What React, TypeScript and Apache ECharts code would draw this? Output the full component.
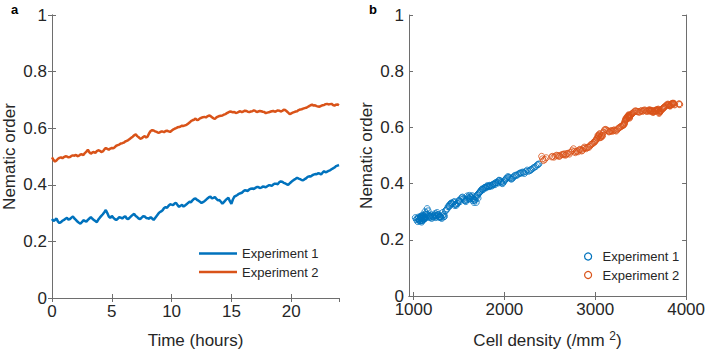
import React, { useEffect, useRef } from 'react';
import * as echarts from 'echarts';

// ---- Data ----
// Frames every 0.25 h plus the in-between frames (TIME_MID).
const TIME_HOURS = [
  0, 0.25, 0.5, 0.75, 1, 1.25, 1.5, 1.75, 2, 2.25, 2.5, 2.75, 3, 3.25, 3.5, 3.75,
  4, 4.25, 4.5, 4.75, 5, 5.25, 5.5, 5.75, 6, 6.25, 6.5, 6.75, 7, 7.25, 7.5, 7.75,
  8, 8.25, 8.5, 8.75, 9, 9.25, 9.5, 9.75, 10, 10.25, 10.5, 10.75, 11, 11.25, 11.5, 11.75,
  12, 12.25, 12.5, 12.75, 13, 13.25, 13.5, 13.75, 14, 14.25, 14.5, 14.75, 15, 15.25, 15.5, 15.75,
  16, 16.25, 16.5, 16.75, 17, 17.25, 17.5, 17.75, 18, 18.25, 18.5, 18.75, 19, 19.25, 19.5, 19.75,
  20, 20.25, 20.5, 20.75, 21, 21.25, 21.5, 21.75, 22, 22.25, 22.5, 22.75, 23, 23.25, 23.5, 23.75, 24,
];
const TIME_MID = [
  0.125, 0.375, 0.625, 0.875, 1.125, 1.375, 1.625, 1.875, 2.125, 2.375, 2.625, 2.875, 3.125, 3.375, 3.625, 3.875,
  4.125, 4.375, 4.625, 4.875, 5.125, 5.375, 5.625, 5.875, 6.125, 6.375, 6.625, 6.875, 7.125, 7.375, 7.625, 7.875,
  8.125, 8.375, 8.625, 8.875, 9.125, 9.375, 9.625, 9.875, 10.125, 10.375, 10.625, 10.875, 11.125, 11.375, 11.625, 11.875,
  12.125, 12.375, 12.625, 12.875, 13.125, 13.375, 13.625, 13.875, 14.125, 14.375, 14.625, 14.875, 15.125, 15.375, 15.625, 15.875,
  16.125, 16.375, 16.625, 16.875, 17.125, 17.375, 17.625, 17.875, 18.125, 18.375, 18.625, 18.875, 19.125, 19.375, 19.625, 19.875,
  20.125, 20.375, 20.625, 20.875, 21.125, 21.375, 21.625, 21.875, 22.125, 22.375, 22.625, 22.875, 23.125, 23.375, 23.625, 23.875,
];

const EXP1_ORDER = [
  0.279, 0.276, 0.270, 0.268, 0.276, 0.283, 0.279, 0.288, 0.276, 0.266, 0.268, 0.272, 0.276, 0.286, 0.276, 0.268,
  0.284, 0.296, 0.311, 0.288, 0.290, 0.279, 0.280, 0.284, 0.286, 0.281, 0.284, 0.294, 0.290, 0.281, 0.284, 0.288,
  0.282, 0.286, 0.276, 0.290, 0.303, 0.310, 0.321, 0.326, 0.330, 0.334, 0.328, 0.326, 0.323, 0.331, 0.340, 0.345,
  0.352, 0.344, 0.336, 0.342, 0.352, 0.358, 0.354, 0.350, 0.346, 0.333, 0.345, 0.354, 0.333, 0.358, 0.364, 0.370,
  0.377, 0.380, 0.384, 0.387, 0.389, 0.392, 0.390, 0.393, 0.395, 0.398, 0.401, 0.404, 0.409, 0.411, 0.405, 0.400,
  0.410, 0.418, 0.425, 0.420, 0.416, 0.423, 0.430, 0.433, 0.438, 0.441, 0.436, 0.448, 0.446, 0.451, 0.458, 0.466, 0.470,
];
const EXP1_ORDER_MID = [
  0.272, 0.281, 0.265, 0.273, 0.280, 0.277, 0.284, 0.281, 0.270, 0.263, 0.275, 0.270, 0.281, 0.280, 0.272, 0.277,
  0.290, 0.303, 0.300, 0.283, 0.284, 0.276, 0.286, 0.281, 0.289, 0.279, 0.289, 0.297, 0.286, 0.279, 0.289, 0.283,
  0.280, 0.281, 0.283, 0.297, 0.306, 0.318, 0.319, 0.331, 0.328, 0.336, 0.322, 0.329, 0.327, 0.336, 0.338, 0.350,
  0.347, 0.340, 0.339, 0.347, 0.356, 0.352, 0.357, 0.345, 0.340, 0.339, 0.350, 0.342, 0.348, 0.361, 0.368, 0.372,
  0.381, 0.378, 0.386, 0.385, 0.392, 0.389, 0.394, 0.391, 0.398, 0.396, 0.404, 0.402, 0.412, 0.407, 0.402, 0.405,
  0.414, 0.421, 0.422, 0.417, 0.420, 0.428, 0.429, 0.436, 0.437, 0.440, 0.443, 0.444, 0.449, 0.455, 0.461, 0.468,
];

const EXP2_ORDER = [
  0.497, 0.482, 0.492, 0.497, 0.498, 0.500, 0.498, 0.504, 0.506, 0.503, 0.508, 0.512, 0.524, 0.510, 0.516, 0.519,
  0.520, 0.518, 0.530, 0.524, 0.530, 0.533, 0.540, 0.546, 0.549, 0.555, 0.562, 0.570, 0.578, 0.568, 0.564, 0.572,
  0.571, 0.590, 0.592, 0.587, 0.585, 0.588, 0.590, 0.589, 0.591, 0.598, 0.603, 0.606, 0.608, 0.612, 0.620, 0.628,
  0.634, 0.630, 0.637, 0.640, 0.642, 0.643, 0.635, 0.638, 0.643, 0.645, 0.650, 0.656, 0.658, 0.657, 0.655, 0.660,
  0.659, 0.661, 0.657, 0.660, 0.661, 0.659, 0.660, 0.657, 0.655, 0.658, 0.661, 0.660, 0.662, 0.661, 0.664, 0.655,
  0.652, 0.657, 0.660, 0.666, 0.669, 0.672, 0.678, 0.683, 0.681, 0.677, 0.679, 0.682, 0.686, 0.685, 0.682, 0.683, 0.681,
];
const EXP2_ORDER_MID = [
  0.488, 0.486, 0.495, 0.494, 0.501, 0.497, 0.502, 0.503, 0.501, 0.507, 0.505, 0.517, 0.515, 0.514, 0.513, 0.522,
  0.516, 0.525, 0.527, 0.528, 0.529, 0.538, 0.542, 0.547, 0.553, 0.558, 0.566, 0.575, 0.572, 0.563, 0.569, 0.567,
  0.582, 0.593, 0.589, 0.584, 0.588, 0.586, 0.591, 0.587, 0.595, 0.600, 0.604, 0.609, 0.610, 0.616, 0.625, 0.630,
  0.629, 0.635, 0.639, 0.638, 0.645, 0.639, 0.633, 0.641, 0.644, 0.648, 0.653, 0.659, 0.656, 0.654, 0.658, 0.657,
  0.662, 0.658, 0.659, 0.663, 0.657, 0.661, 0.658, 0.653, 0.656, 0.660, 0.658, 0.663, 0.659, 0.665, 0.660, 0.650,
  0.655, 0.659, 0.664, 0.667, 0.671, 0.675, 0.681, 0.680, 0.678, 0.676, 0.681, 0.685, 0.684, 0.686, 0.680, 0.684,
];

const EXP1_DENSITY = [
  1020, 1040, 1060, 1070, 1050, 1080, 1090, 1100, 1085, 1070, 1095, 1110, 1120, 1105, 1130, 1090,
  1115, 1140, 1150, 1160, 1145, 1175, 1190, 1210, 1230, 1215, 1250, 1240, 1265, 1280, 1290, 1270,
  1300, 1320, 1310, 1335, 1350, 1370, 1390, 1400, 1420, 1440, 1430, 1460, 1470, 1490, 1500, 1520,
  1540, 1560, 1575, 1590, 1600, 1615, 1630, 1640, 1650, 1665, 1660, 1680, 1690, 1700, 1715, 1730,
  1745, 1760, 1775, 1790, 1805, 1820, 1835, 1850, 1870, 1885, 1900, 1920, 1935, 1950, 1965, 1980,
  2000, 2020, 2040, 2060, 2080, 2100, 2125, 2150, 2175, 2200, 2220, 2250, 2280, 2300, 2330, 2360, 2380,
];
const EXP1_DENSITY_MID = [
  1030, 1055, 1045, 1065, 1075, 1100, 1080, 1115, 1060, 1090, 1120, 1100, 1135, 1125, 1110, 1080,
  1130, 1160, 1125, 1170, 1185, 1200, 1180, 1225, 1200, 1245, 1235, 1260, 1250, 1300, 1275, 1290,
  1285, 1330, 1340, 1320, 1360, 1380, 1395, 1415, 1410, 1450, 1455, 1480, 1465, 1510, 1495, 1530,
  1550, 1570, 1565, 1605, 1590, 1625, 1645, 1620, 1670, 1655, 1690, 1675, 1710, 1705, 1725, 1735,
  1755, 1765, 1785, 1800, 1810, 1830, 1840, 1860, 1875, 1895, 1905, 1930, 1940, 1960, 1970, 1990,
  2010, 2030, 2050, 2070, 2090, 2110, 2135, 2165, 2185, 2210, 2235, 2265, 2290, 2315, 2345, 2370,
];

const EXP2_DENSITY = [
  2410, 2430, 2460, 2530, 2560, 2590, 2610, 2640, 2660, 2680, 2700, 2730, 2760, 2780, 2800, 2820,
  2840, 2860, 2880, 2900, 2920, 2940, 2960, 2980, 2995, 3010, 3020, 3035, 3050, 3040, 3060, 3070,
  3080, 3100, 3120, 3140, 3160, 3180, 3200, 3220, 3240, 3260, 3280, 3300, 3310, 3320, 3325, 3335,
  3340, 3350, 3355, 3360, 3365, 3370, 3375, 3380, 3385, 3395, 3410, 3430, 3450, 3470, 3490, 3510,
  3530, 3550, 3570, 3590, 3600, 3610, 3620, 3630, 3640, 3650, 3660, 3670, 3680, 3690, 3695, 3700,
  3705, 3715, 3725, 3740, 3750, 3760, 3780, 3800, 3810, 3820, 3830, 3840, 3850, 3860, 3870, 3920, 3930,
];
const EXP2_DENSITY_MID = [
  2420, 2445, 2520, 2545, 2575, 2600, 2625, 2650, 2670, 2690, 2715, 2745, 2770, 2790, 2810, 2830,
  2850, 2870, 2890, 2910, 2930, 2950, 2970, 2990, 3000, 3015, 3030, 3045, 3030, 3050, 3065, 3075,
  3090, 3110, 3130, 3150, 3170, 3190, 3210, 3230, 3250, 3270, 3290, 3305, 3315, 3322, 3330, 3338,
  3345, 3352, 3358, 3362, 3368, 3372, 3378, 3382, 3390, 3402, 3420, 3440, 3460, 3480, 3500, 3520,
  3540, 3560, 3580, 3595, 3605, 3615, 3625, 3635, 3645, 3655, 3665, 3675, 3685, 3692, 3698, 3702,
  3710, 3720, 3732, 3745, 3755, 3770, 3790, 3805, 3815, 3825, 3835, 3845, 3855, 3865, 3875, 3925,
];

const SERIES_NAMES = ['Experiment 1', 'Experiment 2'];
const TIME_MAX = 24;
const TIME_TICK = 5;
const ORDER_MAX = 1;
const ORDER_TICK = 0.2;
const DENSITY_MIN = 950;
const DENSITY_MAX = 4000;
const DENSITY_TICKS = [1000, 2000, 3000, 4000];

const BLUE = '#0072BD';
const ORANGE = '#D95319';
const AXIS_COLOR = '#6e6e6e';
const TEXT_COLOR = '#262626';
const FONT = '"Liberation Sans", Arial, Helvetica, sans-serif';

// interleave base frames and in-between frames
function frames(xs: number[], ys: number[], xm: number[], ym: number[]) {
  const out: number[][] = [];
  xs.forEach((x, i) => {
    out.push([x, ys[i]]);
    if (i < xm.length) out.push([xm[i], ym[i]]);
  });
  return out;
}

export default function App() {
  const ref = useRef<HTMLDivElement>(null);

  useEffect(() => {
    document.body.style.margin = '0';
    if (!ref.current) return;
    const chart = echarts.init(ref.current, null, { renderer: 'svg' });

    const axisLine = { show: true, lineStyle: { color: AXIS_COLOR, width: 1 } };
    const tick = { show: true, inside: true, length: 4, lineStyle: { color: AXIS_COLOR } };
    const labelStyle = { fontSize: 17, lineHeight: 13, color: TEXT_COLOR, fontFamily: FONT };
    const nameStyle = { fontSize: 17, color: TEXT_COLOR, fontFamily: FONT };
    const plain = (v: number) => String(v);

    const yBase = {
      type: 'value' as const,
      min: 0,
      max: ORDER_MAX,
      interval: ORDER_TICK,
      axisLine,
      axisTick: tick,
      splitLine: { show: false },
    };

    const option: any = {
      animation: false,
      textStyle: { fontFamily: FONT },
      title: [
        { text: 'a', left: 11, top: 3, padding: 0, textStyle: { fontSize: 13, fontWeight: 'bold', color: '#000', fontFamily: FONT } },
        { text: 'b', left: 369, top: 3, padding: 0, textStyle: { fontSize: 13, fontWeight: 'bold', color: '#000', fontFamily: FONT } },
      ],
      grid: [
        { left: 52, top: 15, width: 287, height: 287, containLabel: false },
        { left: 409, top: 15, width: 288, height: 287, containLabel: false },
      ],
      legend: [
        {
          orient: 'vertical',
          left: 194,
          top: 242,
          itemWidth: 38,
          itemHeight: 2.5,
          itemGap: 5.5,
          selectedMode: false,
          data: [
            { name: SERIES_NAMES[0], icon: 'rect', itemStyle: { color: BLUE } },
            { name: SERIES_NAMES[1], icon: 'rect', itemStyle: { color: ORANGE } },
          ],
          textStyle: { fontSize: 13, color: TEXT_COLOR, fontFamily: FONT },
        },
        {
          orient: 'vertical',
          left: 579,
          top: 245,
          itemWidth: 7,
          itemHeight: 7,
          itemGap: 5.5,
          selectedMode: false,
          data: [
            { name: SERIES_NAMES[0], icon: 'circle', itemStyle: { color: 'rgba(0,0,0,0)', borderColor: BLUE, borderWidth: 1.2 } },
            { name: SERIES_NAMES[1], icon: 'circle', itemStyle: { color: 'rgba(0,0,0,0)', borderColor: ORANGE, borderWidth: 1.2 } },
          ],
          textStyle: { fontSize: 13, color: TEXT_COLOR, fontFamily: FONT, padding: [0, 0, 0, 6] },
        },
      ],
      xAxis: [
        {
          type: 'value',
          gridIndex: 0,
          position: 'bottom',
          min: 0,
          max: TIME_MAX,
          interval: TIME_TICK,
          axisLine,
          axisTick: tick,
          axisLabel: { ...labelStyle, margin: 7, showMaxLabel: false, formatter: plain },
          splitLine: { show: false },
          name: 'Time (hours)',
          nameLocation: 'middle',
          nameGap: 34,
          nameTextStyle: nameStyle,
        },
        {
          type: 'value',
          gridIndex: 0,
          position: 'top',
          min: 0,
          max: TIME_MAX,
          interval: TIME_TICK,
          axisLine,
          axisTick: tick,
          axisLabel: { show: false },
          splitLine: { show: false },
        },
        {
          type: 'value',
          gridIndex: 1,
          position: 'bottom',
          min: DENSITY_MIN,
          max: DENSITY_MAX,
          axisLine,
          axisTick: { ...tick, customValues: DENSITY_TICKS },
          axisLabel: { ...labelStyle, margin: 7, customValues: DENSITY_TICKS, formatter: plain },
          splitLine: { show: false },
          name: 'Cell density (/mm {sup|2})',
          nameLocation: 'middle',
          nameGap: 34,
          nameTextStyle: {
            ...nameStyle,
            rich: {
              sup: { fontSize: 12, color: TEXT_COLOR, fontFamily: FONT, padding: [0, 0, 9, 0] },
            },
          },
        },
        {
          type: 'value',
          gridIndex: 1,
          position: 'top',
          min: DENSITY_MIN,
          max: DENSITY_MAX,
          axisLine,
          axisTick: { ...tick, customValues: DENSITY_TICKS },
          axisLabel: { show: false },
          splitLine: { show: false },
        },
      ],
      yAxis: [
        {
          ...yBase,
          gridIndex: 0,
          position: 'left',
          axisLabel: { ...labelStyle, margin: 5 },
          name: 'Nematic order',
          nameLocation: 'middle',
          nameGap: 34,
          nameTextStyle: nameStyle,
        },
        { ...yBase, gridIndex: 0, position: 'right', axisLabel: { show: false } },
        {
          ...yBase,
          gridIndex: 1,
          position: 'left',
          axisLabel: { ...labelStyle, margin: 5 },
          name: 'Nematic order',
          nameLocation: 'middle',
          nameGap: 34,
          nameTextStyle: nameStyle,
        },
        { ...yBase, gridIndex: 1, position: 'right', axisLabel: { show: false } },
      ],
      series: [
        {
          name: SERIES_NAMES[0],
          type: 'line',
          xAxisIndex: 0,
          yAxisIndex: 0,
          showSymbol: false,
          symbol: 'none',
          lineStyle: { color: BLUE, width: 2.5 },
          itemStyle: { color: BLUE },
          data: frames(TIME_HOURS, EXP1_ORDER, TIME_MID, EXP1_ORDER_MID),
        },
        {
          name: SERIES_NAMES[1],
          type: 'line',
          xAxisIndex: 0,
          yAxisIndex: 0,
          showSymbol: false,
          symbol: 'none',
          lineStyle: { color: ORANGE, width: 2.5 },
          itemStyle: { color: ORANGE },
          data: frames(TIME_HOURS, EXP2_ORDER, TIME_MID, EXP2_ORDER_MID),
        },
        {
          name: SERIES_NAMES[0],
          type: 'scatter',
          xAxisIndex: 2,
          yAxisIndex: 2,
          symbol: 'circle',
          symbolSize: 6,
          itemStyle: { color: 'rgba(0,0,0,0)', borderColor: BLUE, borderWidth: 1 },
          data: frames(EXP1_DENSITY, EXP1_ORDER, EXP1_DENSITY_MID, EXP1_ORDER_MID),
        },
        {
          name: SERIES_NAMES[1],
          type: 'scatter',
          xAxisIndex: 2,
          yAxisIndex: 2,
          symbol: 'circle',
          symbolSize: 6,
          itemStyle: { color: 'rgba(0,0,0,0)', borderColor: ORANGE, borderWidth: 1 },
          data: frames(EXP2_DENSITY, EXP2_ORDER, EXP2_DENSITY_MID, EXP2_ORDER_MID),
        },
      ],
    };

    chart.setOption(option);
    return () => chart.dispose();
  }, []);

  return <div ref={ref} style={{ width: 708, height: 354 }} />;
}
